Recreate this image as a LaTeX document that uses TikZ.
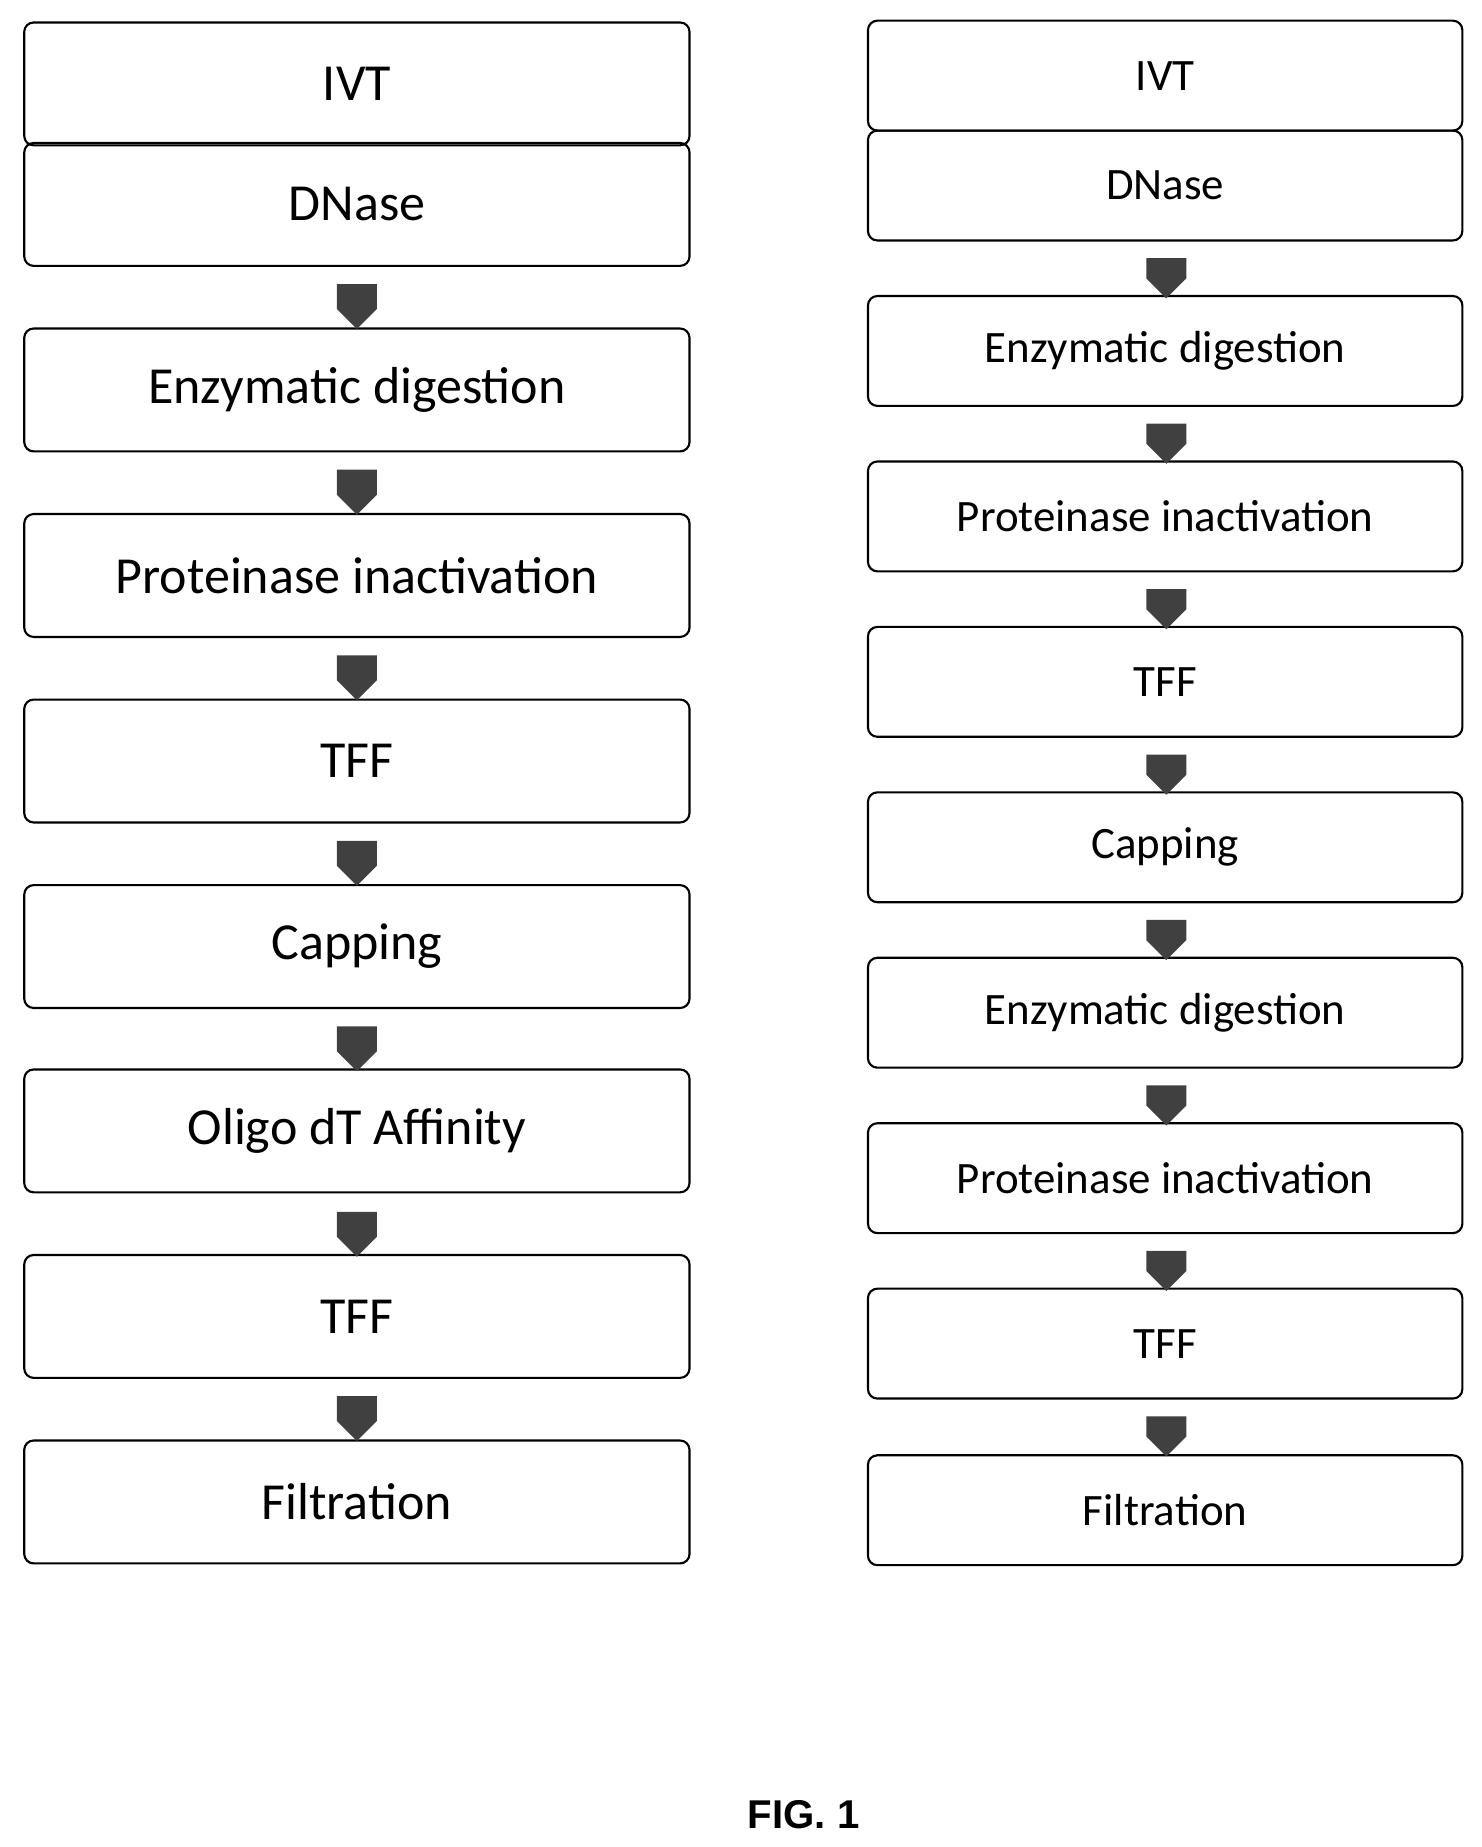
\documentclass[tikz,border=0pt]{standalone}
\usepackage{fontspec}
\setmainfont{Carlito}
\newfontfamily\figfont{Liberation Sans}
\usetikzlibrary{shapes.arrows}
\begin{document}
\begin{tikzpicture}[x=1pt,y=-1pt,
 boxL/.style={draw,line width=1.8pt,rounded corners=8pt,minimum width=563pt,minimum height=104pt,inner sep=0pt,font=\fontsize{44}{44}\selectfont},
 boxR/.style={draw,line width=1.8pt,rounded corners=8pt,minimum width=503pt,minimum height=93pt,inner sep=0pt,font=\fontsize{38}{38}\selectfont},
 arr/.style={single arrow,shape border rotate=270,fill=black!75,draw=none,minimum height=38pt,minimum width=34pt,single arrow head extend=0pt,inner sep=6pt}]
\useasboundingbox (0,0) rectangle (1254,1563);
% left
\foreach \n/\t/\y in {l1/IVT/71,l2/DNase/173,l3/Enzymatic digestion/330,l4/Proteinase inactivation/487,l5/TFF/644,l6/Capping/801,l7/Oligo dT Affinity/957,l8/TFF/1114,l9/Filtration/1271}
  \node[boxL] (\n) at (302,\y) {\t};
\foreach \a/\y in {a1/251,a2/408,a3/565,a4/722,a5/879,a6/1036,a7/1192}
  \node[arr] (\a) at (302,\y) {};
% right
\foreach \n/\t/\y in {r1/IVT/64,r2/DNase/157,r3/Enzymatic digestion/297,r4/Proteinase inactivation/437,r5/TFF/577,r6/Capping/717,r7/Enzymatic digestion/857,r8/Proteinase inactivation/997,r9/TFF/1137,r10/Filtration/1278}
  \node[boxR] (\n) at (986,\y) {\t};
\foreach \a/\y in {b1/227,b2/367,b3/507,b4/647,b5/787,b6/927,b7/1067,b8/1207}
  \node[arr,minimum height=34pt] (\a) at (987,\y) {};
\node[font=\figfont\bfseries\fontsize{34}{34}\selectfont] (fig) at (680,1536) {FIG. 1};
\end{tikzpicture}
\end{document}
